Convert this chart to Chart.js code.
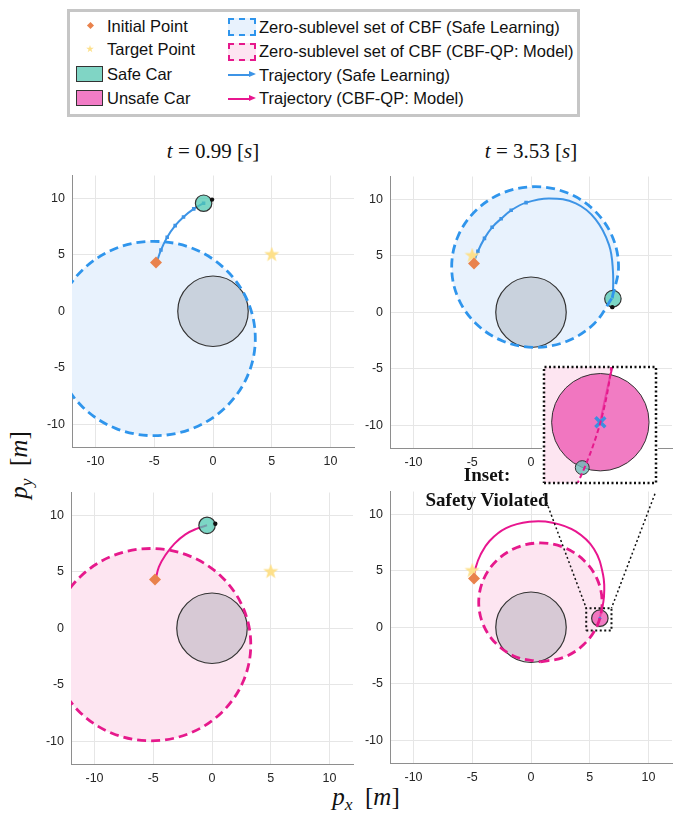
<!DOCTYPE html>
<html>
<head>
<meta charset="utf-8">
<script src="https://cdn.jsdelivr.net/npm/chart.js@4.4.1/dist/chart.umd.min.js"></script>
<style>
  body { margin: 0; width: 673px; height: 813px; position: relative; overflow: hidden; background: #fff; font-family: "Liberation Sans", Arial, sans-serif; }
  canvas { position: absolute; }
  .leg { position: absolute; font-size: 16.5px; line-height: 20px; color: #111; white-space: nowrap; }
  .math { position: absolute; font-family: "Liberation Serif", serif; color: #111; white-space: nowrap; transform: translate(-50%, -50%); }
  .math sub { font-size: 70%; vertical-align: -0.3em; line-height: 0; }
  .star { position: absolute; background: #fde08a; clip-path: polygon(50% 0%, 61% 35%, 98% 35%, 68% 57%, 79% 91%, 50% 70%, 21% 91%, 32% 57%, 2% 35%, 39% 35%); }
</style>
</head>
<body>

<div style="position:absolute;left:67px;top:9px;width:507px;height:102px;border:3px solid #c6c6c6;"></div>
<div style="position:absolute;left:88px;top:23px;width:5px;height:5px;background:#e9824c;transform:rotate(45deg);"></div>
<div class="star" style="left:86px;top:45px;width:8px;height:8px;"></div>
<div style="position:absolute;left:76px;top:66px;width:25px;height:14px;background:#80d5c5;border:1px solid #333;"></div>
<div style="position:absolute;left:76px;top:90px;width:25px;height:14px;background:#f27cc6;border:1px solid #333;"></div>
<div class="leg" style="left:107px;top:16px;">Initial Point</div>
<div class="leg" style="left:107px;top:39px;">Target Point</div>
<div class="leg" style="left:107px;top:64px;">Safe Car</div>
<div class="leg" style="left:107px;top:88px;">Unsafe Car</div>

<div style="position:absolute;left:228px;top:18px;width:24px;height:14px;background:#e8f2fd;border:2px dashed #2f95ec;"></div>
<div style="position:absolute;left:228px;top:43px;width:24px;height:14px;background:#fde5f1;border:2px dashed #e6198c;"></div>
<div style="position:absolute;left:228px;top:74px;width:22px;height:1.5px;background:#3d94e6;"></div>
<div style="position:absolute;left:249px;top:71px;width:0;height:0;border-left:7px solid #3d94e6;border-top:3.5px solid transparent;border-bottom:3.5px solid transparent;"></div>
<div style="position:absolute;left:228px;top:98px;width:22px;height:1.5px;background:#e8168f;"></div>
<div style="position:absolute;left:249px;top:95px;width:0;height:0;border-left:7px solid #e8168f;border-top:3.5px solid transparent;border-bottom:3.5px solid transparent;"></div>
<div class="leg" style="left:259px;top:17px;">Zero-sublevel set of CBF (Safe Learning)</div>
<div class="leg" style="left:259px;top:41px;">Zero-sublevel set of CBF (CBF-QP: Model)</div>
<div class="leg" style="left:259px;top:65px;">Trajectory (Safe Learning)</div>
<div class="leg" style="left:259px;top:88px;">Trajectory (CBF-QP: Model)</div>

<div class="math" style="left:213px;top:151px;font-size:21px;"><i>t</i> = 0.99 [<i>s</i>]</div>
<div class="math" style="left:531px;top:151px;font-size:21px;"><i>t</i> = 3.53 [<i>s</i>]</div>
<div class="math" style="left:366px;top:797px;font-size:25px;"><i>p</i><sub><i>x</i></sub>&nbsp;&nbsp;[<i>m</i>]</div>
<div class="math" style="left:19px;top:465px;font-size:25px;transform:translate(-50%,-50%) rotate(-90deg);"><i>p</i><sub><i>y</i></sub>&nbsp;&nbsp;[<i>m</i>]</div>

<canvas id="chartTL" width="336" height="316" style="left:22px;top:161px;"></canvas>
<canvas id="chartTR" width="336" height="316" style="left:340px;top:162px;"></canvas>
<canvas id="chartBL" width="336" height="316" style="left:21px;top:478px;"></canvas>
<canvas id="chartBR" width="336" height="316" style="left:340px;top:477px;"></canvas>
<canvas id="chartInset" width="116" height="120" style="left:542px;top:365px;background:#fff;"></canvas>

<div class="math" style="left:487px;top:475px;font-size:19px;font-weight:bold;">Inset:</div>
<div class="math" style="left:487px;top:500px;font-size:19px;font-weight:bold;">Safety Violated</div>

<script>
const axisTicks = [-10, -5, 0, 5, 10];
const axisMin = -12;
const axisMax = 12;

const obstacle = [{ x: 0, y: 0, r: 3 }];
const carRadius = 0.7;
const initialPoint = [{ x: -4.85, y: 4.3 }];
const targetEarly = [{ x: 5, y: 5 }];
const targetLate = [{ x: -5, y: 5 }];

// zero-sublevel sets of the CBF (outline)
const cbfSafeEarly = [
  { x: -13.6, y: -2.4 }, { x: -12.95, y: -5.69 }, { x: -11.08, y: -8.48 }, { x: -8.29, y: -10.35 },
  { x: -5.0, y: -11.0 }, { x: -1.71, y: -10.35 }, { x: 1.08, y: -8.48 }, { x: 2.95, y: -5.69 },
  { x: 3.6, y: -2.4 }, { x: 2.95, y: 0.89 }, { x: 1.08, y: 3.68 }, { x: -1.71, y: 5.55 },
  { x: -5.1, y: 6.18 }, { x: -8.29, y: 5.55 }, { x: -11.08, y: 3.68 }, { x: -12.95, y: 0.89 },
  { x: -13.6, y: -2.4 }
];
const cbfSafeLate = [
  { x: 6.91, y: 1.28 }, { x: 7.45, y: 4.0 }, { x: 6.91, y: 6.72 }, { x: 5.37, y: 9.02 },
  { x: 3.07, y: 10.56 }, { x: 0.35, y: 11.1 }, { x: -2.37, y: 10.56 }, { x: -4.67, y: 9.02 },
  { x: -6.21, y: 6.72 }, { x: -6.75, y: 4.0 }, { x: -6.21, y: 1.28 }, { x: -4.67, y: -1.02 },
  { x: -2.37, y: -2.56 }, { x: 0.35, y: -3.1 }, { x: 3.07, y: -2.56 }, { x: 5.37, y: -1.02 },
  { x: 6.91, y: 1.28 }
];
const cbfModelEarly = [
  { x: -13.7, y: -1.45 }, { x: -13.05, y: -4.71 }, { x: -11.21, y: -7.46 }, { x: -8.46, y: -9.3 },
  { x: -5.2, y: -9.95 }, { x: -1.94, y: -9.3 }, { x: 0.81, y: -7.46 }, { x: 2.65, y: -4.71 },
  { x: 3.3, y: -1.45 }, { x: 2.65, y: 1.81 }, { x: 0.81, y: 4.56 }, { x: -1.94, y: 6.4 },
  { x: -5.2, y: 7.05 }, { x: -8.46, y: 6.4 }, { x: -11.21, y: 4.56 }, { x: -13.05, y: 1.81 },
  { x: -13.7, y: -1.45 }
];
const cbfModelLate = [
  { x: 0.8, y: -3.05 }, { x: 2.81, y: -2.65 }, { x: 4.51, y: -1.51 }, { x: 5.65, y: 0.19 },
  { x: 6.05, y: 2.2 }, { x: 5.65, y: 4.21 }, { x: 4.51, y: 5.91 }, { x: 2.81, y: 7.05 },
  { x: 0.8, y: 7.45 }, { x: -1.21, y: 7.05 }, { x: -2.91, y: 5.91 }, { x: -4.05, y: 4.21 },
  { x: -4.45, y: 2.2 }, { x: -4.05, y: 0.19 }, { x: -2.91, y: -1.51 }, { x: -1.21, y: -2.65 },
  { x: 0.8, y: -3.05 }
];

// trajectories
const trajSafeEarly = [
  { x: -4.8, y: 4.3 }, { x: -4.43, y: 5.41 }, { x: -3.9, y: 6.55 }, { x: -3.22, y: 7.57 },
  { x: -2.51, y: 8.34 }, { x: -1.64, y: 9.05 }, { x: -0.8, y: 9.55 }
];
const trajSafeLate = [
  { x: -4.89, y: 4.32 }, { x: -4.52, y: 5.39 }, { x: -3.96, y: 6.53 }, { x: -3.31, y: 7.51 },
  { x: -2.54, y: 8.27 }, { x: -1.69, y: 9.01 }, { x: -0.42, y: 9.69 }, { x: 1.55, y: 10.06 },
  { x: 3.81, y: 9.63 }, { x: 5.5, y: 8.22 }, { x: 6.64, y: 5.96 }, { x: 6.97, y: 3.7 },
  { x: 6.97, y: 1.2 }
];
const trajSafeLateMarkers = [0, 2.5, 2.5, 2.5, 2.5, 2.5, 2.5, 0, 0, 0, 0, 0, 0];
const trajModelEarly = [
  { x: -4.8, y: 4.29 }, { x: -4.52, y: 5.42 }, { x: -3.96, y: 6.47 }, { x: -3.19, y: 7.48 },
  { x: -2.26, y: 8.3 }, { x: -1.27, y: 8.81 }, { x: -0.42, y: 9.1 }
];
const trajModelLate = [
  { x: -4.85, y: 4.3 }, { x: -4.7, y: 5.3 }, { x: -4.3, y: 6.4 }, { x: -3.53, y: 7.63 },
  { x: -2.12, y: 8.76 }, { x: -0.14, y: 9.32 }, { x: 1.83, y: 9.24 }, { x: 3.81, y: 8.47 },
  { x: 5.36, y: 6.92 }, { x: 6.13, y: 4.66 }, { x: 6.21, y: 2.69 }, { x: 5.86, y: 0.8 }
];

// cars and heading tips
const carSafeEarly = [{ x: -0.8, y: 9.55, r: carRadius }];
const carSafeLate = [{ x: 6.97, y: 1.2, r: carRadius }];
const carModelEarly = [{ x: -0.42, y: 9.1, r: carRadius }];
const carModelLate = [{ x: 5.86, y: 0.8, r: carRadius }];
const headSafeEarly = [{ x: -0.08, y: 9.87 }];
const headSafeLate = [{ x: 6.92, y: 0.45 }];
const headModelEarly = [{ x: 0.28, y: 9.24 }];

// inset: zoomed view around the unsafe car
const insetX = [5.05, 6.66];
const insetY = [-0.07, 1.59];
const insetGhostCar = [{ x: 5.6, y: 0.15, r: 0.1 }];
const zoomBox = [
  { x: 4.7, y: -0.28 }, { x: 6.85, y: -0.28 }, { x: 6.85, y: 1.69 }, { x: 4.7, y: 1.69 }, { x: 4.7, y: -0.28 }
];
const zoomLinkLeft = [{ x: 1.05, y: 11.8 }, { x: 4.7, y: 1.69 }];
const zoomLinkRight = [{ x: 10.55, y: 11.8 }, { x: 6.85, y: 1.69 }];

const blue = '#2f95ec';
const blueFill = '#e8f2fd';
const magenta = '#e6198c';
const pinkFill = '#fde5f1';
const safeCarColor = 'rgba(80,200,178,0.75)';
const unsafeCarColor = 'rgba(236,80,175,0.75)';

function starImage(size, color) {
  const c = document.createElement('canvas');
  c.width = size;
  c.height = size;
  const g = c.getContext('2d');
  g.beginPath();
  for (let i = 0; i < 10; i++) {
    const a = -Math.PI / 2 + i * Math.PI / 5;
    const rr = i % 2 ? size * 0.2 : size * 0.5;
    g.lineTo(size / 2 + rr * Math.cos(a), size / 2 + rr * Math.sin(a));
  }
  g.closePath();
  g.fillStyle = color;
  g.fill();
  return c;
}
const starMarker = starImage(16, '#fde08a');

// radius given in data units -> pixels through the x scale
function circlePx(ctx) {
  if (!ctx.raw || ctx.raw.r === undefined) return 0;
  const sx = ctx.chart.scales.x;
  const px = Math.abs(sx.getPixelForValue(ctx.raw.x + ctx.raw.r) - sx.getPixelForValue(ctx.raw.x));
  return isFinite(px) ? px : 0;
}

function cbfFill(points, color) {
  return { data: points, showLine: true, fill: 'shape', backgroundColor: color, borderWidth: 0,
    pointRadius: 0, tension: 0.35, order: 9 };
}
function cbfEdge(points, color, dash, width) {
  return { data: points, showLine: true, fill: false, borderColor: color, borderWidth: width,
    borderDash: dash, pointRadius: 0, tension: 0.35, order: 1 };
}
function circle(points, color, borderWidth, order) {
  return { data: points, pointStyle: 'circle', pointRadius: circlePx, pointBackgroundColor: color,
    pointBorderColor: '#333', pointBorderWidth: borderWidth, order: order };
}
function trajectory(points, color, markers) {
  return { data: points, showLine: true, borderColor: color, borderWidth: 2, tension: 0.4,
    pointStyle: 'rect', pointRadius: markers, pointBackgroundColor: color, pointBorderWidth: 0, order: 6 };
}
function dot(points, color, radius, order) {
  return { data: points, pointStyle: 'circle', pointRadius: radius, pointBackgroundColor: color,
    pointBorderWidth: 0, order: order };
}
function dotted(points, width) {
  return { data: points, showLine: true, borderColor: '#111', borderWidth: width, borderDash: [2, 2.5],
    pointRadius: 0, tension: 0, clip: false, order: 0 };
}

function axisOpts(isX) {
  return {
    type: 'linear',
    min: axisMin,
    max: axisMax,
    afterBuildTicks: (a) => { a.ticks = axisTicks.map((v) => ({ value: v })); },
    afterFit: (s) => { if (isX) s.height = 30; else s.width = 50; },
    grid: { color: '#e6e6e6', drawTicks: false },
    border: { color: '#8e8e8e', width: 1 },
    ticks: { color: '#262626', font: { family: '"Liberation Sans", Arial, sans-serif', size: 12.5 }, padding: 7, maxRotation: 0, autoSkip: false }
  };
}

function renderPanel(id, datasets) {
  return new Chart(document.getElementById(id), {
    type: 'scatter',
    data: { datasets },
    options: {
      responsive: false,
      animation: false,
      events: [],
      layout: { autoPadding: false, padding: { top: 4, right: 4, left: 0, bottom: 0 } },
      elements: { line: { capBezierPoints: false } },
      scales: { x: axisOpts(true), y: axisOpts(false) },
      plugins: { legend: { display: false }, tooltip: { enabled: false } }
    }
  });
}

function commonMarks(target) {
  return [
    { data: initialPoint, pointStyle: 'rectRot', pointRadius: 6, pointBackgroundColor: '#e9824c', pointBorderWidth: 0, order: 4 },
    { data: target, pointStyle: starMarker, pointRadius: 8, order: 5 },
    circle(obstacle, 'rgba(130,135,150,0.3)', 1.2, 8)
  ];
}

renderPanel('chartTL', [
  cbfFill(cbfSafeEarly, blueFill),
  cbfEdge(cbfSafeEarly, blue, [9, 5], 2.8),
  trajectory(trajSafeEarly, '#3d94e6', 2.5),
  circle(carSafeEarly, safeCarColor, 1.2, 3),
  dot(headSafeEarly, '#111', 2.2, 2),
  ...commonMarks(targetEarly)
]);

renderPanel('chartTR', [
  cbfFill(cbfSafeLate, blueFill),
  cbfEdge(cbfSafeLate, blue, [9, 5], 2.8),
  trajectory(trajSafeLate, '#3d94e6', trajSafeLateMarkers),
  circle(carSafeLate, safeCarColor, 1.2, 3),
  dot(headSafeLate, '#111', 2.2, 2),
  ...commonMarks(targetLate)
]);

renderPanel('chartBL', [
  cbfFill(cbfModelEarly, pinkFill),
  cbfEdge(cbfModelEarly, magenta, [9, 5], 2.8),
  trajectory(trajModelEarly, '#e8168f', 0),
  circle(carModelEarly, safeCarColor, 1.2, 3),
  dot(headModelEarly, '#111', 2.2, 2),
  ...commonMarks(targetEarly)
]);

renderPanel('chartBR', [
  cbfFill(cbfModelLate, pinkFill),
  cbfEdge(cbfModelLate, magenta, [9, 5], 2.8),
  trajectory(trajModelLate, '#e8168f', 0),
  circle(carModelLate, unsafeCarColor, 1.2, 3),
  dot(carModelLate, '#3a8ee6', 1.5, 2),
  dotted(zoomBox, 2),
  dotted(zoomLinkLeft, 1.5),
  dotted(zoomLinkRight, 1.5),
  ...commonMarks(targetLate)
]);

// inset chart, same data seen through a small window
const insetFrame = [
  { x: insetX[0], y: insetY[0] }, { x: insetX[1], y: insetY[0] }, { x: insetX[1], y: insetY[1] },
  { x: insetX[0], y: insetY[1] }, { x: insetX[0], y: insetY[0] }
];
new Chart(document.getElementById('chartInset'), {
  type: 'scatter',
  data: {
    datasets: [
      cbfFill(cbfModelLate, pinkFill),
      cbfEdge(cbfModelLate, magenta, [5, 3], 2),
      trajectory(trajModelLate, '#e8168f', 0),
      circle(carModelLate, unsafeCarColor, 1, 3),
      circle(insetGhostCar, 'rgba(110,190,185,0.8)', 1, 2),
      { data: carModelLate, pointStyle: 'crossRot', pointRadius: 7, pointBorderColor: '#3d8fe0', pointBorderWidth: 3.5, order: 1 },
      dotted(insetFrame, 2.5)
    ]
  },
  options: {
    responsive: false,
    animation: false,
    events: [],
    layout: { autoPadding: false, padding: 2 },
    elements: { line: { capBezierPoints: false } },
    scales: {
      x: { type: 'linear', min: insetX[0], max: insetX[1], display: false },
      y: { type: 'linear', min: insetY[0], max: insetY[1], display: false }
    },
    plugins: { legend: { display: false }, tooltip: { enabled: false } }
  }
});
</script>
</body>
</html>
